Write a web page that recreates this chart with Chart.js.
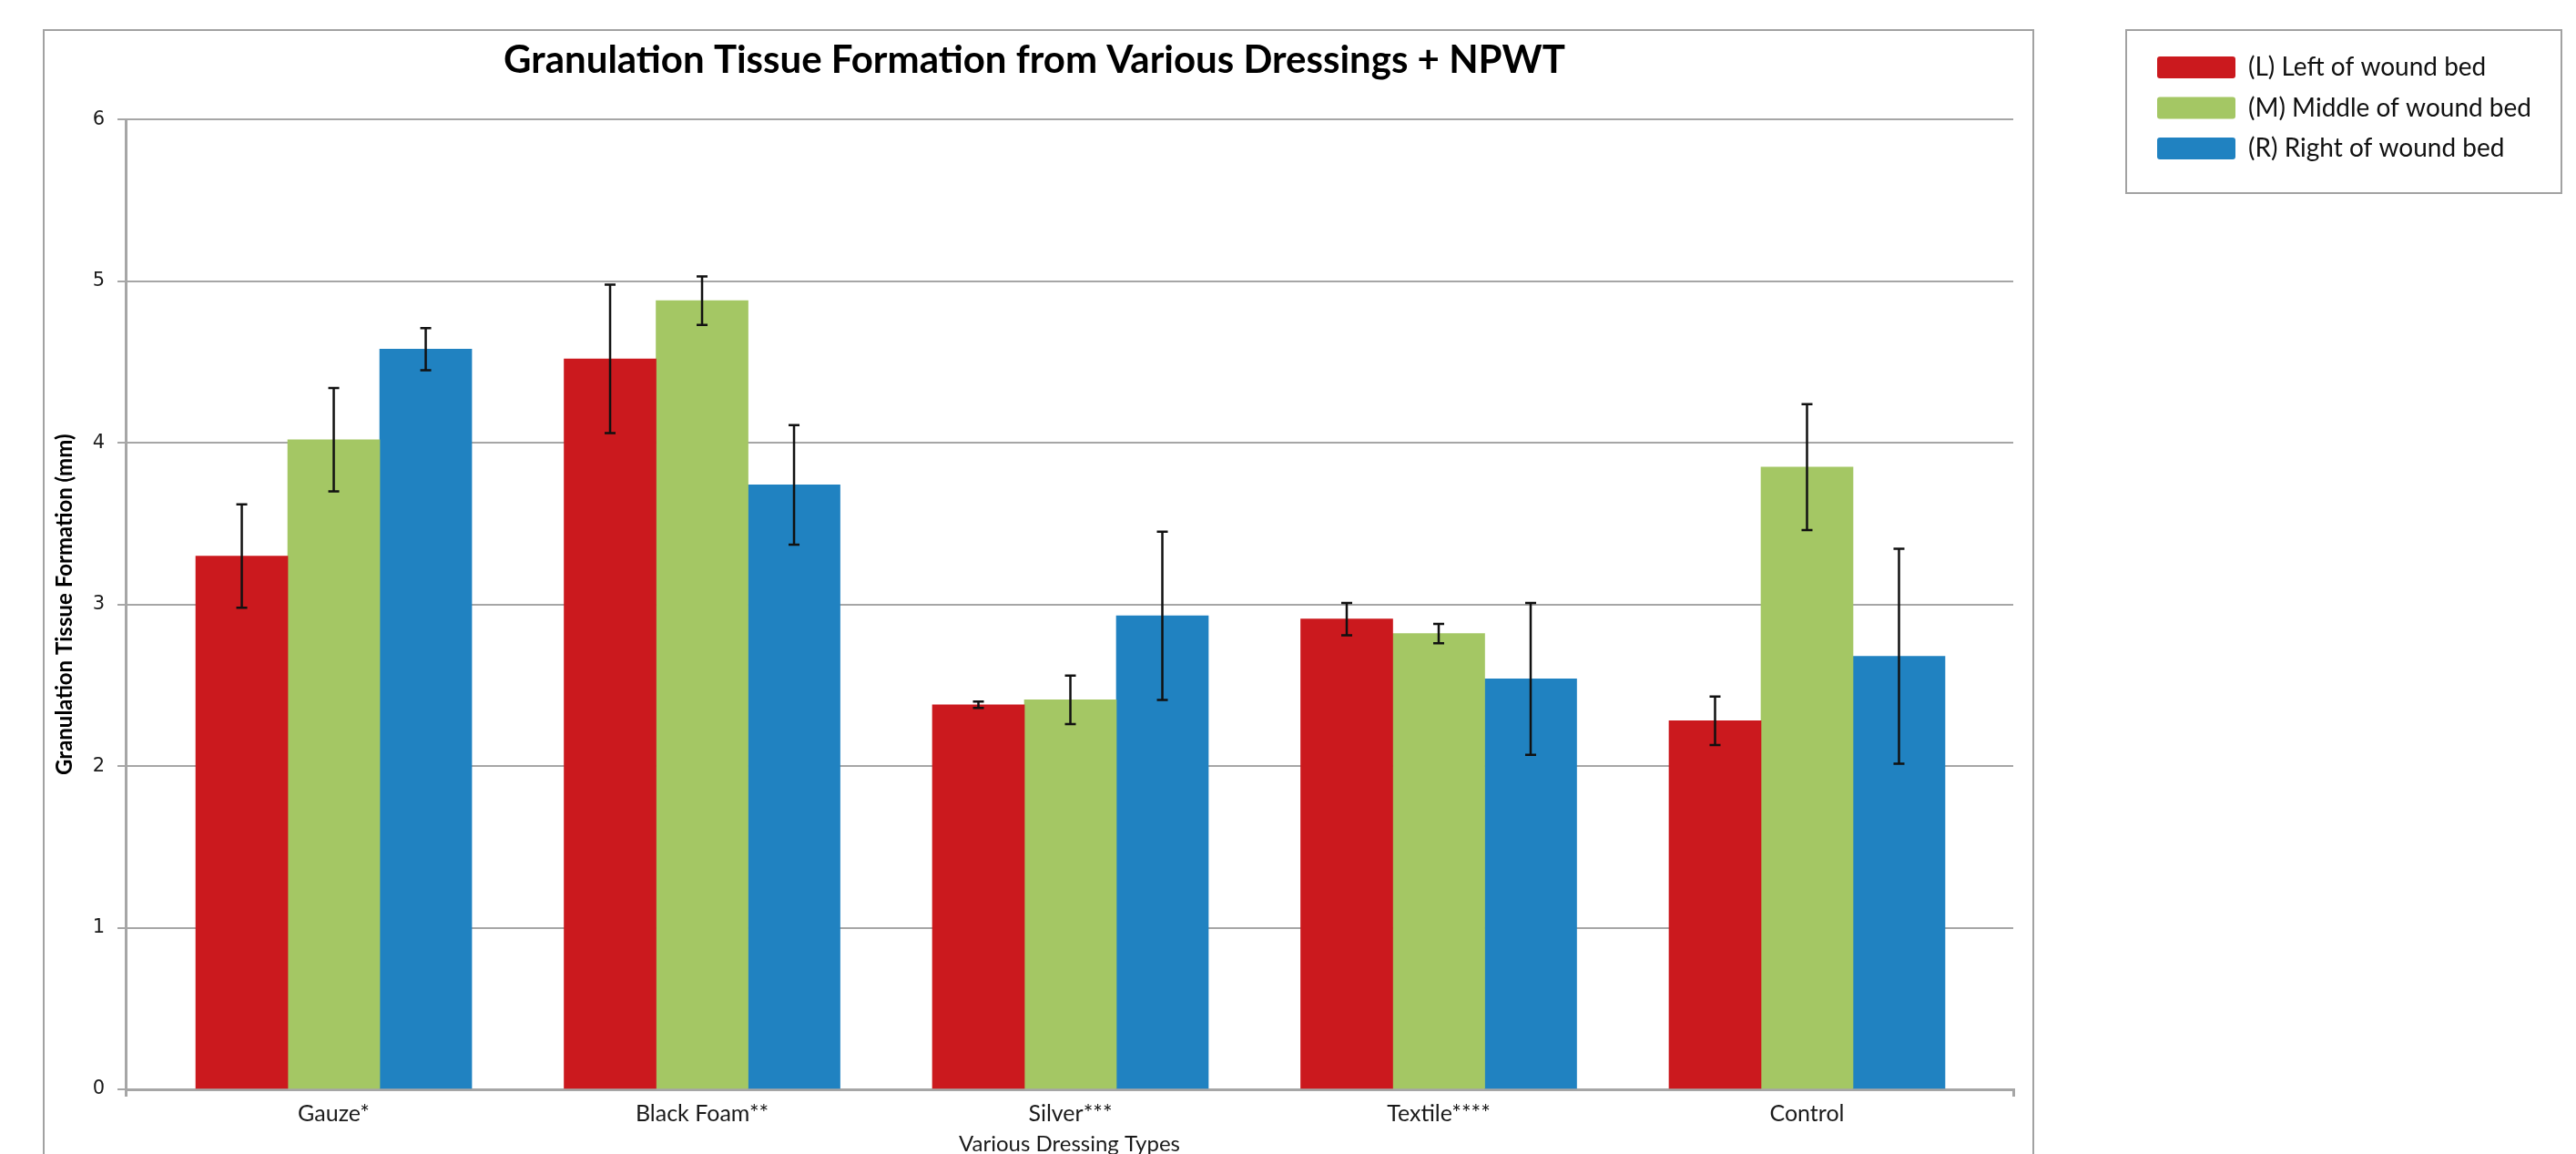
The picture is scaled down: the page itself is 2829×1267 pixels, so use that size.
<!DOCTYPE html>
<html lang="en">
<head>
<meta charset="UTF-8">
<title>Granulation Tissue Formation from Various Dressings + NPWT</title>
<style>
  html, body { margin: 0; padding: 0; background: #fff; overflow: hidden; width: 2829px; height: 1267px; }
  /* chart border and legend border, like the spreadsheet export */
  #frame { position: absolute; left: 47px; top: 32px; width: 2183px; height: 1300px; border: 2px solid #a2a2a2; border-bottom: none; }
  #legendFrame { position: absolute; left: 2334px; top: 32px; width: 476px; height: 177px; border: 2px solid #a2a2a2; }
  #chart { position: absolute; left: 0; top: 0; }
</style>
</head>
<body>
<div id="frame"></div>
<div id="legendFrame"></div>
<canvas id="chart" width="2829" height="1277"></canvas>

<script src="https://cdn.jsdelivr.net/npm/chart.js@4.4.3/dist/chart.umd.min.js"></script>
<script>
// data (mm)
const categories = ['Gauze*', 'Black Foam**', 'Silver***', 'Textile****', 'Control'];
const seriesNames = ['(L) Left of wound bed', '(M) Middle of wound bed', '(R) Right of wound bed'];
const leftValues   = [3.30, 4.52, 2.38, 2.91, 2.28];
const leftErrors   = [0.32, 0.46, 0.02, 0.10, 0.15];
const middleValues = [4.02, 4.88, 2.41, 2.82, 3.85];
const middleErrors = [0.32, 0.15, 0.15, 0.06, 0.39];
const rightValues  = [4.58, 3.74, 2.93, 2.54, 2.68];
const rightErrors  = [0.13, 0.37, 0.52, 0.47, 0.665];
const yTicks = [0, 1, 2, 3, 4, 5, 6];

const colors = ['#CB191E', '#A4C764', '#2082C1'];
const gridColor = '#a6a6a6';

function points(values) {
    return values.map((v, i) => ({ x: i, y: v }));
}

// error bars drawn from the dataset values through the y scale
const errorBars = {
    id: 'errorBars',
    afterDatasetsDraw(chart) {
        const ctx = chart.ctx;
        const y = chart.scales.y;
        ctx.save();
        ctx.strokeStyle = '#111';
        ctx.lineWidth = 2.5;
        chart.data.datasets.forEach((ds, i) => {
            chart.getDatasetMeta(i).data.forEach((bar, j) => {
                const v = ds.data[j].y, e = ds.errors[j];
                const top = y.getPixelForValue(v + e);
                const bot = y.getPixelForValue(v - e);
                ctx.beginPath();
                ctx.moveTo(bar.x, top); ctx.lineTo(bar.x, bot);
                ctx.moveTo(bar.x - 6, top); ctx.lineTo(bar.x + 6, top);
                ctx.moveTo(bar.x - 6, bot); ctx.lineTo(bar.x + 6, bot);
                ctx.stroke();
            });
        });
        ctx.restore();
    }
};

// put the legend in its own box to the right of the chart border
const legendPlace = {
    id: 'legendPlace',
    afterLayout(chart) {
        const lg = chart.legend;
        const pad = lg.options.labels.padding;
        lg.left = 2369 - pad;
        lg.top = 60 - pad;
        lg.right = lg.left + 460;
        lg.bottom = lg.top + 600;
    }
};

const config = {
    type: 'bar',
    data: {
        datasets: [
            { label: seriesNames[0], data: points(leftValues), errors: leftErrors, backgroundColor: colors[0] },
            { label: seriesNames[1], data: points(middleValues), errors: middleErrors, backgroundColor: colors[1] },
            { label: seriesNames[2], data: points(rightValues), errors: rightErrors, backgroundColor: colors[2] }
        ]
    },
    options: {
        responsive: false,
        animation: false,
        devicePixelRatio: 1,
        barThickness: 101,
        borderWidth: 0,
        layout: { padding: { left: 61, right: 618, top: 0, bottom: 0 } },
        scales: {
            x: {
                type: 'linear',
                min: -0.565,
                max: 4.56,
                offset: false,
                afterFit: s => { s.height = 81; },
                ticks: {
                    stepSize: 1,
                    autoSkip: false,
                    maxRotation: 0,
                    padding: 4,
                    color: '#1a1a1a',
                    font: { family: 'Lato', size: 25 },
                    callback: v => Number.isInteger(v) ? categories[v] : ''
                },
                grid: {
                    offset: false,
                    drawOnChartArea: false,
                    drawTicks: true,
                    tickLength: 8,
                    lineWidth: 3,
                    color: c => (c.tick && Number.isInteger(c.tick.value)) ? 'rgba(0,0,0,0)' : gridColor
                },
                border: { display: true, color: gridColor, width: 3 },
                title: {
                    display: true,
                    text: 'Various Dressing Types',
                    color: '#1a1a1a',
                    font: { family: 'Lato', size: 24 },
                    padding: { top: 0, bottom: 6 }
                }
            },
            y: {
                min: yTicks[0],
                max: yTicks[yTicks.length - 1],
                afterFit: s => { s.width = 77; },
                afterBuildTicks: s => { s.ticks = yTicks.map(v => ({ value: v })); },
                ticks: {
                    padding: 14,
                    color: '#1a1a1a',
                    font: { family: 'DejaVu Sans', size: 21 }
                },
                grid: { color: gridColor, lineWidth: 2, tickLength: 9 },
                border: { display: true, color: gridColor, width: 3 },
                title: {
                    display: true,
                    text: 'Granulation Tissue Formation (mm)',
                    color: '#000',
                    font: { family: 'Lato', size: 24, weight: 'bold', lineHeight: 0.85 },
                    padding: { top: 0, bottom: 0 }
                }
            }
        },
        plugins: {
            title: {
                display: true,
                text: 'Granulation Tissue Formation from Various Dressings + NPWT',
                color: '#000',
                font: { family: 'Lato', size: 42, weight: 'bold', lineHeight: 1.2 },
                padding: { top: 41, bottom: 40 }
            },
            legend: {
                display: true,
                position: 'chartArea',
                align: 'start',
                labels: {
                    boxWidth: 86,
                    boxHeight: 24,
                    padding: 16.5,
                    useBorderRadius: true,
                    borderRadius: 3,
                    color: '#111',
                    font: { family: 'Lato', size: 28 }
                }
            },
            tooltip: { enabled: false }
        }
    },
    plugins: [errorBars, legendPlace]
};

const ctx = document.getElementById('chart')?.getContext('2d');
if (ctx) {
    new Chart(ctx, config);
} else {
    console.error('no canvas context');
}
</script>
</body>
</html>
